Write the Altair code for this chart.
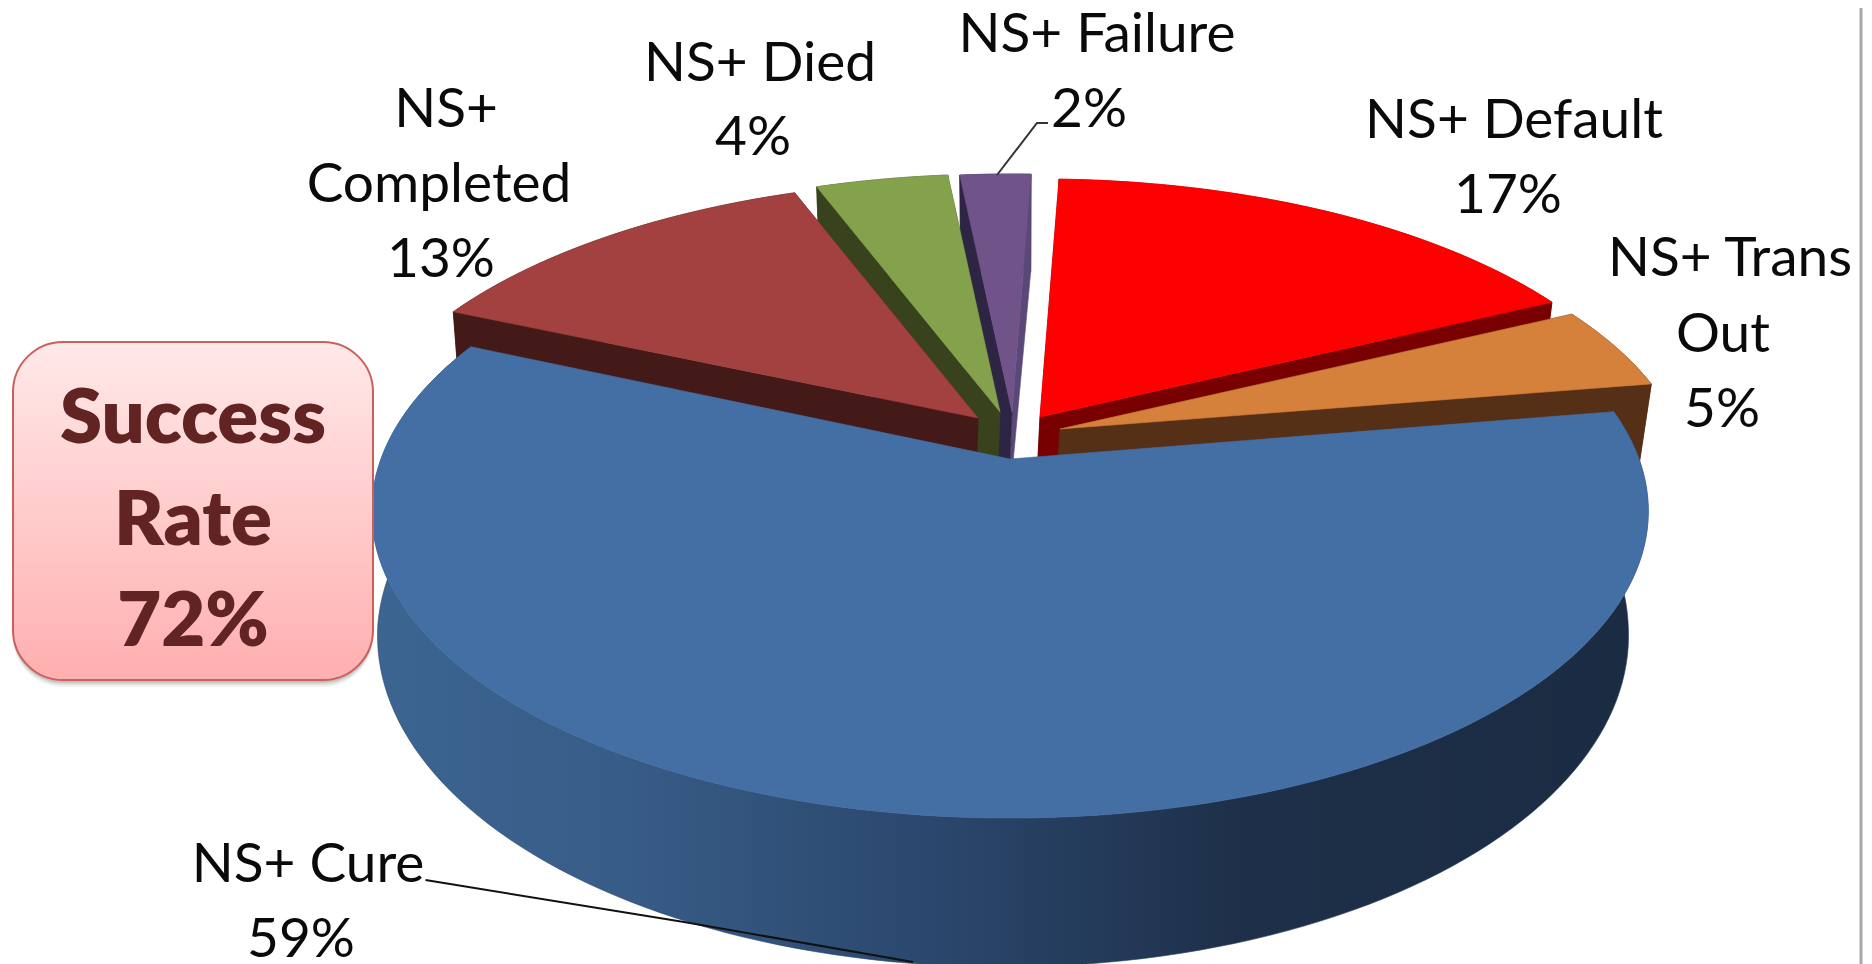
import math
import altair as alt
import pandas as pd

# ---- chart values (unrounded estimates behind the rounded % labels) ----
CATEGORIES = ["NS+ Cure", "NS+ Completed", "NS+ Died", "NS+ Failure", "NS+ Default", "NS+ Trans Out"]
VALUES = [59.2, 12.7, 4.1, 2.2, 17.2, 4.6]
CALLOUT_LINES = ["Success", "Rate", "72%"]

# ---- styles and layout (pixel space of the picture) ----
TOP = ["#446FA4", "#A34140", "#84A24B", "#6F5389", "#FE0000", "#D5803B"]
WALL = [None, "#431A17", "#38431E", "#2E2545", "#780000", "#562F17"]
WALL_RIGHT = {3: "#5A4878"}
APEX = [(1010, 459), (978, 418), (1000, 412), (1012, 412), (1040, 417), (1060, 429)]
VIEW = [(629.0, 298.0, 0.17)] + [(625.0, 288.0, 0.2)] * 5
DRAW_ORDER = [3, 2, 1, 4, 5, 0]
START_DEG = 80.6
CX, CY0, YB0, SX, SY = 1012.0, 519.0, 644.0, 0.98, 1.08
W, H = 1856, 956

X = alt.X("x:Q", scale=alt.Scale(domain=[8, 8 + W], nice=False, zero=False), axis=None)
Y = alt.Y("y:Q", scale=alt.Scale(domain=[8 + H, 8], nice=False, zero=False), axis=None)


def top_point(idx, deg, r):
    A, B, K = VIEW[idx]
    apex = APEX[idx]
    t = math.radians(deg)
    u, v = r * math.sin(t), r * math.cos(t)
    w = 1 + K * v
    return apex[0] + A * u / w, apex[1] - B * v / w


def bottom(p):
    drift = -7 * min(1.0, max(0.0, (p[1] - 175) / 325))
    return CX + drift + SX * (p[0] - CX), YB0 + SY * (p[1] - CY0)


def poly(points, fill, edge=True):
    pts = list(points) + [points[0]]
    df = pd.DataFrame({"x": [p[0] for p in pts], "y": [p[1] for p in pts], "i": range(len(pts))})
    stroke = fill if isinstance(fill, str) else "#2a4468"
    return alt.Chart(df).mark_line(fill=fill, stroke=stroke, strokeWidth=0.6 if edge else 0, clip=True,
                                   interpolate="linear").encode(x=X, y=Y, order="i:Q")


# slice angles from the values
angles = []
a = START_DEG
for val in VALUES:
    angles.append((a, a + val * 3.6))
    a += val * 3.6

layers = []
wall_gradient = alt.Gradient(
    gradient="linear", x1=0, x2=1, y1=0, y2=0,
    stops=[
        alt.GradientStop(offset=0, color="#3C6591"),
        alt.GradientStop(offset=0.2, color="#375C87"),
        alt.GradientStop(offset=0.45, color="#2A466B"),
        alt.GradientStop(offset=0.68, color="#1E3049"),
        alt.GradientStop(offset=1, color="#1A2B42"),
    ],
)

for idx in DRAW_ORDER:
    a0, a1 = angles[idx]
    apex = APEX[idx]
    r = 1.0 if idx == 0 else 0.99
    n = max(4, int((a1 - a0) / 1.5))
    arc = [top_point(idx, a0 + (a1 - a0) * j / n, r) for j in range(n + 1)]
    arc_b = [bottom(p) for p in arc]
    if idx == 0:
        layers.append(poly(arc + arc_b[::-1], wall_gradient))
    else:
        ap_b = bottom(apex)
        right_col = WALL_RIGHT.get(idx, WALL[idx])
        layers.append(poly(arc + arc_b[::-1], WALL[idx]))
        layers.append(poly([apex, arc[-1], arc_b[-1], ap_b], right_col))
        layers.append(poly([apex, arc[0], arc_b[0], ap_b], WALL[idx]))
    layers.append(poly([apex] + arc, TOP[idx]))

# leader lines
LEADERS = [
    [(425.5, 880), (684, 922), (913, 962)],
    [(997, 175), (1037, 123), (1048, 123)],
]
LEADER_COLOURS = ["#111111", "#333333"]
for pts, col in zip(LEADERS, LEADER_COLOURS):
    df = pd.DataFrame({"x": [p[0] for p in pts], "y": [p[1] for p in pts], "i": range(len(pts))})
    layers.append(alt.Chart(df).mark_line(stroke=col, strokeWidth=2, clip=True).encode(x=X, y=Y, order="i:Q"))

# labels: (category index, line text or None for the percentage, centre x, baseline y)
LABEL_LINES = [
    (0, "NS+ Cure", 308, 882), (0, None, 301, 957),
    (1, "NS+", 446, 127), (1, "Completed", 439, 202), (1, None, 441, 277),
    (2, "NS+ Died", 760, 81), (2, None, 753, 155),
    (3, "NS+ Failure", 1097, 52), (3, None, 1089, 127),
    (4, "NS+ Default", 1514, 138), (4, None, 1508, 213),
    (5, "NS+ Trans", 1730, 276), (5, "Out", 1723, 352), (5, None, 1722, 427),
]
lab = pd.DataFrame([
    {"x": x, "y": y, "t": t if t is not None else f"{round(VALUES[i])}%"} for i, t, x, y in LABEL_LINES
])
layers.append(alt.Chart(lab).mark_text(font="Lato", fontSize=55, align="center", baseline="alphabetic",
                                       color="#0a0a0a").encode(x=X, y=Y, text="t:N"))

# callout box with soft shadow
BOX = (13, 373, 342, 680)
for off, op in [(7, 0.05), (5, 0.08), (3, 0.12)]:
    sh = pd.DataFrame({"x": [BOX[0]], "x2": [BOX[1]], "y": [BOX[2] + off], "y2": [BOX[3] + off]})
    layers.append(alt.Chart(sh).mark_rect(cornerRadius=50, fill="#000000", opacity=op).encode(
        x=X, x2="x2:Q", y=Y, y2="y2:Q"))
box = pd.DataFrame({"x": [BOX[0]], "x2": [BOX[1]], "y": [BOX[2]], "y2": [BOX[3]]})
layers.append(alt.Chart(box).mark_rect(
    cornerRadius=50, stroke="#C9605A", strokeWidth=2,
    fill=alt.Gradient(gradient="linear", x1=0, x2=0, y1=0, y2=1,
                      stops=[alt.GradientStop(offset=0, color="#FFE9E9"),
                             alt.GradientStop(offset=1, color="#FFAFAF")]),
).encode(x=X, x2="x2:Q", y=Y, y2="y2:Q"))
call = pd.DataFrame({"x": [193, 193, 193], "y": [443, 545, 646], "t": CALLOUT_LINES})
layers.append(alt.Chart(call).mark_text(font="Lato", fontWeight=800, fontSize=76, align="center",
                                        baseline="alphabetic", color="#622423").encode(x=X, y=Y, text="t:N"))

# right frame line
rule = pd.DataFrame({"x": [1861], "y": [8], "y2": [964]})
layers.append(alt.Chart(rule).mark_rule(color="#AAAAAA", strokeWidth=3).encode(x=X, y=Y, y2="y2:Q"))

chart = alt.layer(*layers).properties(
    width=W, height=H, padding=0, background="white",
    autosize=alt.AutoSizeParams(type="none"),
).configure_view(stroke=None)

chart.save("out.html", embed_options={"renderer": "svg", "actions": False})
